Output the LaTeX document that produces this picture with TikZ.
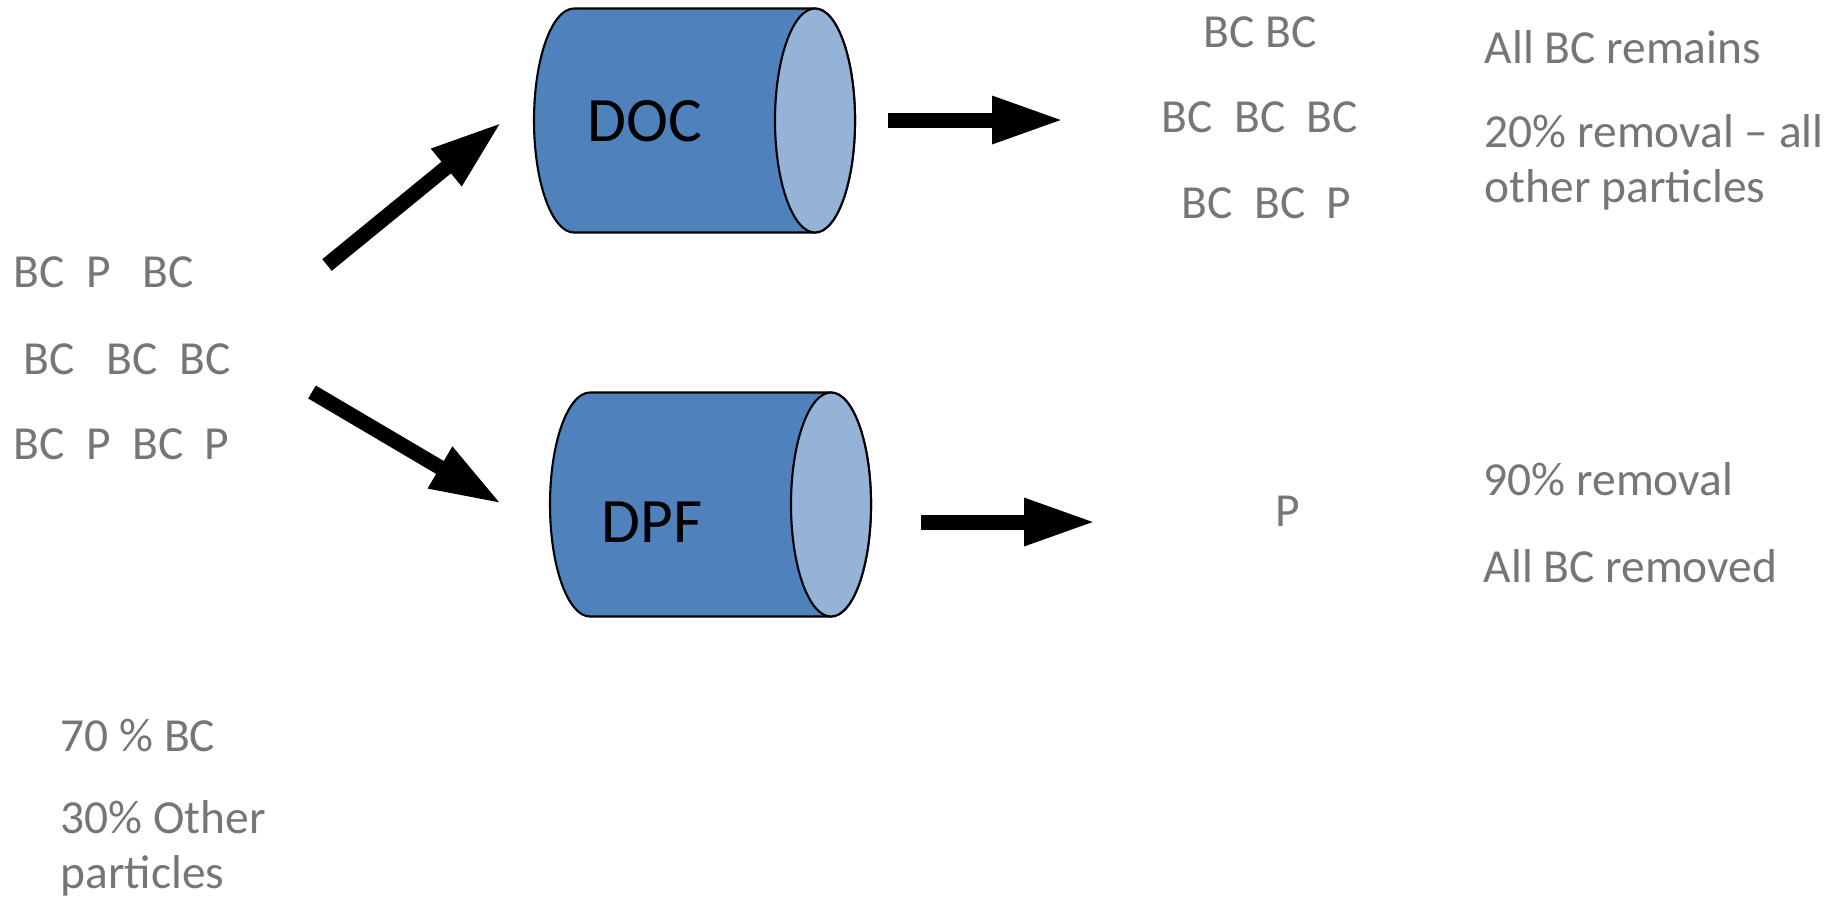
\documentclass[tikz,border=0pt]{standalone}
\usepackage{fontspec}
\setmainfont{Carlito}
\usetikzlibrary{arrows.meta}
\definecolor{txtgray}{RGB}{118,118,118}
\definecolor{canblue}{RGB}{79,129,189}
\definecolor{canend}{RGB}{149,179,215}
\tikzset{
  txt/.style={anchor=base west, inner sep=0pt, align=left, text=txtgray, font=\fontsize{13.5}{15.4}\selectfont},
  lbl/.style={inner sep=0pt, font=\fontsize{18}{21}\selectfont},
  flow/.style={-{Triangle[length=7.2mm, width=4.4mm]}, line width=1.5mm},
  body/.style={fill=canblue, draw=black, line width=0.6pt},
  lid/.style={fill=canend, draw=black, line width=0.6pt}
}

\begin{document}
\begin{tikzpicture}
  \useasboundingbox (0,0) rectangle (18.39,9.02);

  % Draw the two cans: DOC on top, DPF below
  \foreach \x/\y in {5.74/7.815, 5.90/3.975} {
    \path[body] (\x,\y+1.12) -- ++(2.41,0)
      arc[start angle=90, end angle=-90, x radius=0.4, y radius=1.12]
      -- ++(-2.41,0)
      arc[start angle=270, end angle=90, x radius=0.4, y radius=1.12] -- cycle;
    \path[lid] (\x+2.41,\y) ellipse [x radius=0.4, y radius=1.12];
  }
  \node[lbl] (DOC) at (6.45,7.81) {DOC};
  \node[lbl] (DPF) at (6.52,3.80) {DPF};

  % Exhaust going in
  \node[txt] (in_1) at (0.13,6.15) {BC~~P~~~BC};
  \node[txt] (in_2) at (0.23,5.28) {BC~~~BC~~BC};
  \node[txt] (in_3) at (0.13,4.43) {BC~~P~~BC~~P};
  \node[txt] (mix_1) at (0.60,1.51) {70 \% BC};
  % base of a two-line node is its last line
  \node[txt] (mix_2) at (0.60,0.14) {30\% Other\\particles};

  % After DOC
  \node[txt] (doc_1) at (12.03,8.55) {BC BC};
  \node[txt] (doc_2) at (11.61,7.70) {BC~~BC~~BC};
  \node[txt] (doc_3) at (11.81,6.84) {BC~~BC~~P};
  \node[txt] (doc_a) at (14.84,8.39) {All BC remains};
  \node[txt] (doc_b) at (14.84,7.00) {20\% removal -- all\\other particles};

  % After DPF
  \node[txt] (dpf_1) at (12.75,3.76) {P};
  \node[txt] (dpf_a) at (14.83,4.07) {90\% removal};
  \node[txt] (dpf_b) at (14.83,3.20) {All BC removed};

  % Arrow ends
  \coordinate (up_0) at (3.27,6.37);
  \coordinate (up_1) at (5.02,7.80);
  \coordinate (dn_0) at (3.12,5.10);
  \coordinate (dn_1) at (5.02,3.98);
  \coordinate (doc_0) at (8.88,7.82);
  \coordinate (doc_t) at (10.64,7.82);
  \coordinate (dpf_0) at (9.21,3.80);
  \coordinate (dpf_t) at (10.96,3.80);

  \draw[flow] (up_0) -- (up_1);
  \draw[flow] (dn_0) -- (dn_1);
  \draw[flow] (doc_0) -- (doc_t);
  \draw[flow] (dpf_0) -- (dpf_t);
\end{tikzpicture}
\end{document}
